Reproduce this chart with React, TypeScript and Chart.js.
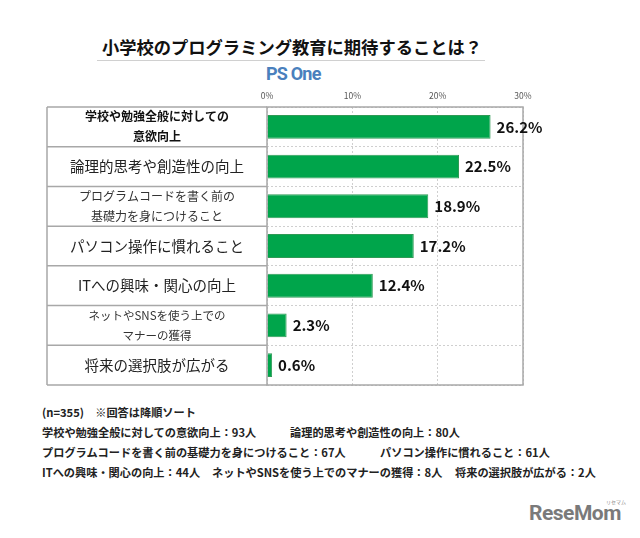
import React, { useEffect, useRef } from "react";
import { Chart, registerables } from "chart.js";

Chart.register(...registerables);

const categories: string[][] = [
  ["学校や勉強全般に対しての", "意欲向上"],
  ["論理的思考や創造性の向上"],
  ["プログラムコードを書く前の", "基礎力を身につけること"],
  ["パソコン操作に慣れること"],
  ["ITへの興味・関心の向上"],
  ["ネットやSNSを使う上での", "マナーの獲得"],
  ["将来の選択肢が広がる"],
];
const values: number[] = [26.2, 22.5, 18.9, 17.2, 12.4, 2.3, 0.6];
const xTicks: number[] = [0, 10, 20, 30];

const title = "小学校のプログラミング教育に期待することは？";
const noteLines: { text: string; x: number; y: number }[][] = [
  [{ text: "(n=355)　※回答は降順ソート", x: 42, y: 404 }],
  [
    { text: "学校や勉強全般に対しての意欲向上：93人", x: 42, y: 424 },
    { text: "論理的思考や創造性の向上：80人", x: 290, y: 424 },
  ],
  [
    { text: "プログラムコードを書く前の基礎力を身につけること：67人", x: 42, y: 444 },
    { text: "パソコン操作に慣れること：61人", x: 380, y: 444 },
  ],
  [
    { text: "ITへの興味・関心の向上：44人", x: 42, y: 464 },
    { text: "ネットやSNSを使う上でのマナーの獲得：8人", x: 212, y: 464 },
    { text: "将来の選択肢が広がる：2人", x: 455, y: 464 },
  ],
];

const JP = '"Noto Sans CJK JP", "Noto Sans", sans-serif';
const LABEL_W = 220;

const labelStyles = [
  { size: 12, weight: "bold", color: "#111" },
  { size: 14.5, weight: "normal", color: "#222" },
  { size: 12, weight: "normal", color: "#333" },
  { size: 14.5, weight: "normal", color: "#222" },
  { size: 14.5, weight: "normal", color: "#222" },
  { size: 11.5, weight: "normal", color: "#333" },
  { size: 14.5, weight: "normal", color: "#222" },
];

const tablePlugin = {
  id: "tablePlugin",
  afterDraw(chart: any) {
    const { ctx, chartArea } = chart;
    const yScale = chart.scales.y;
    const left = chartArea.left - LABEL_W;
    const n = categories.length;
    ctx.save();
    ctx.strokeStyle = "#a8a8a8";
    ctx.lineWidth = 1.5;
    ctx.setLineDash([]);
    ctx.strokeRect(chartArea.left, chartArea.top, chartArea.right - chartArea.left, chartArea.bottom - chartArea.top);
    ctx.beginPath();
    ctx.moveTo(left, chartArea.top);
    ctx.lineTo(left, chartArea.bottom);
    const step = yScale.getPixelForValue(1) - yScale.getPixelForValue(0);
    for (let i = 0; i <= n; i++) {
      const yy = yScale.getPixelForValue(0) - step / 2 + i * step;
      ctx.moveTo(left, yy);
      ctx.lineTo(chartArea.left, yy);
    }
    ctx.stroke();
    const cx = left + LABEL_W / 2;
    ctx.textAlign = "center";
    ctx.textBaseline = "middle";
    categories.forEach((lines, i) => {
      const st = labelStyles[i];
      ctx.font = `${st.weight} ${st.size}px ${JP}`;
      ctx.fillStyle = st.color;
      const yc = yScale.getPixelForValue(i);
      const lh = 20;
      lines.forEach((ln, j) => {
        const yy = yc + (j - (lines.length - 1) / 2) * lh;
        ctx.fillText(ln, cx, yy);
      });
    });
    const meta = chart.getDatasetMeta(0);
    ctx.textAlign = "left";
    ctx.font = `bold 15px ${JP}`;
    ctx.fillStyle = "#111";
    meta.data.forEach((bar: any, i: number) => {
      ctx.fillText(values[i].toFixed(1) + "%", bar.x + 6, bar.y);
    });
    ctx.restore();
  },
};

function BarChart() {
  const ref = useRef<HTMLCanvasElement | null>(null);
  useEffect(() => {
    if (!ref.current) return;
    const chart = new Chart(ref.current, {
      type: "bar",
      data: {
        labels: categories.map((c) => c.join("")),
        datasets: [
          {
            data: values,
            backgroundColor: "#00a54b",
            borderColor: "#2f9a55",
            borderWidth: 1,
            barPercentage: 0.6,
            categoryPercentage: 1,
          },
        ],
      },
      options: {
        indexAxis: "y",
        animation: false,
        responsive: false,
        maintainAspectRatio: false,
        layout: { padding: { left: 47, right: 117, top: 85, bottom: 15 } },
        plugins: { legend: { display: false }, tooltip: { enabled: false } },
        scales: {
          x: {
            position: "top",
            min: 0,
            max: 30,
            afterBuildTicks: (scale: any) => {
              scale.ticks = xTicks.map((v) => ({ value: v }));
            },
            afterFit: (scale: any) => {
              scale.height = 22;
            },
            ticks: {
              callback: (v: any) => v + "%",
              font: { size: 8.5, family: JP },
              color: "#555",
              padding: 6,
            },
            grid: { color: "#cfcfcf", drawTicks: false, lineWidth: 1 },
            border: { display: false, dash: [2, 2] },
          },
          y: {
            type: "category",
            afterFit: (scale: any) => {
              scale.width = LABEL_W;
            },
            ticks: { display: false },
            grid: { color: "#cfcfcf", offset: true, drawTicks: false, lineWidth: 1 },
            border: { display: false, dash: [2, 2] },
          },
        },
      },
      plugins: [tablePlugin],
    } as any);
    return () => chart.destroy();
  }, []);
  return (
    <canvas
      ref={ref}
      width={640}
      height={400}
      style={{ position: "absolute", left: 0, top: 0, width: 640, height: 400 }}
    />
  );
}

export default function App() {
  return (
    <div
      style={{
        position: "absolute",
        left: 0,
        top: 0,
        width: 640,
        height: 538,
        background: "#fff",
        overflow: "hidden",
        fontFamily: JP,
      }}
    >
      <div
        style={{
          position: "absolute",
          left: 0,
          width: 584,
          top: 34,
          textAlign: "center",
          fontSize: 17.3,
          fontWeight: "bold",
          color: "#111",
          lineHeight: "26px",
          whiteSpace: "nowrap",
        }}
      >
        {title}
      </div>
      <div style={{ position: "absolute", left: 97, top: 60, width: 388, height: 1, background: "#d0d0d0" }} />
      <div
        style={{
          position: "absolute",
          left: 266,
          top: 62,
          fontFamily: "Roboto, sans-serif",
          fontWeight: "bold",
          fontSize: 18,
          letterSpacing: -0.8,
          color: "#4a80bd",
          lineHeight: "24px",
        }}
      >
        PS One
      </div>
      <BarChart />
      {noteLines.flat().map((n, i) => (
        <div
          key={i}
          style={{
            position: "absolute",
            left: n.x,
            top: n.y,
            fontSize: 11.2,
            fontWeight: "bold",
            color: "#222",
            lineHeight: "16px",
            whiteSpace: "nowrap",
          }}
        >
          {n.text}
        </div>
      ))}
      <div
        style={{
          position: "absolute",
          left: 529,
          top: 500,
          fontFamily: "Roboto, sans-serif",
          fontWeight: "bold",
          fontSize: 21,
          letterSpacing: -0.5,
          color: "#7a7a7a",
          lineHeight: "26px",
        }}
      >
        ReseMom
      </div>
      <div
        style={{
          position: "absolute",
          left: 606,
          top: 499,
          fontSize: 5,
          color: "#888",
          lineHeight: "6px",
        }}
      >
        リセマム
      </div>
    </div>
  );
}
